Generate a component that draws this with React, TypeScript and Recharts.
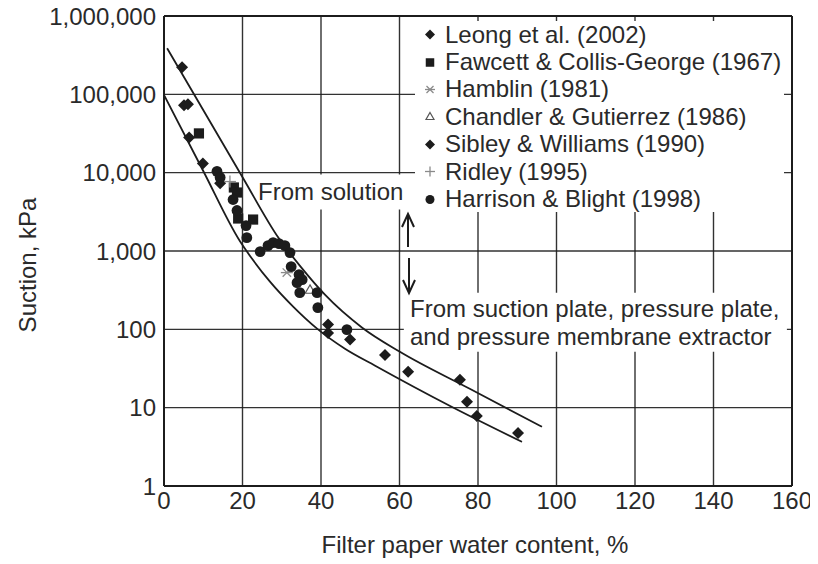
import React from "react";
import {
  CartesianGrid,
  ComposedChart,
  Legend,
  Line,
  ReferenceArea,
  Scatter,
  XAxis,
  YAxis,
} from "recharts";

const X_TICKS = [0, 20, 40, 60, 80, 100, 120, 140, 160];
const Y_TICKS = [1, 10, 100, 1000, 10000, 100000, 1000000];

// calibration band: upper and lower bounding curves
const UPPER_X = [0.8, 19.9, 29.3, 34.8, 41.0, 50.5, 60.1, 77.9, 96.3];
const UPPER_Y = [387000, 8940, 1440, 632, 277, 105, 51.7, 17.4, 5.7];
const LOWER_X = [0, 10, 19.4, 22.4, 27.0, 32.9, 39.0, 46.1, 53.8, 72.9, 91.2];
const LOWER_Y = [98000, 10500, 1320, 800, 406, 195, 102, 56.5, 34.3, 10.5, 3.66];

// measured points, water content (%) vs suction (kPa)
const LEONG_X = [4.6, 5.1, 6.1, 6.4, 9.9, 56.3, 62.2, 75.4, 77.2, 79.7, 90.2];
const LEONG_Y = [221000, 72300, 74500, 28200, 13100, 47, 28.7, 22.7, 11.9, 7.85, 4.76];
const FAWCETT_X = [8.9, 17.8, 18.6, 18.9, 22.7];
const FAWCETT_Y = [31700, 6470, 5580, 2600, 2520];
const HAMBLIN_X = [31.3];
const HAMBLIN_Y = [530];
const CHANDLER_X = [37.2];
const CHANDLER_Y = [321];
const SIBLEY_X = [14.3, 41.8, 41.8, 47.4];
const SIBLEY_Y = [7300, 115, 90, 74];
const RIDLEY_X = [16.8];
const RIDLEY_Y = [7700];
const HARRISON_X = [
  13.5, 14.3, 17.6, 18.6, 20.9, 21.1, 24.5, 26.5, 27.8, 29.3, 30.8, 32.1, 32.4,
  34.4, 35.2, 33.9, 34.6, 39.0, 39.2, 46.6,
];
const HARRISON_Y = [
  10400, 8700, 4540, 3290, 2110, 1480, 983, 1170, 1280, 1240, 1170, 955, 631,
  499, 431, 394, 294, 294, 189, 99,
];

const INK = "#1c1c1c";
const TEXT = "#2a2a2a";
const FONT = "'Liberation Sans', Arial, Helvetica, sans-serif";

const zip = (xs: number[], ys: number[]) => xs.map((x, i) => ({ x, y: ys[i] }));

type Marker = (cx: number, cy: number, s: number) => React.ReactElement;

const diamond: Marker = (cx, cy, s) => (
  <polygon
    points={`${cx},${cy - s} ${cx + s},${cy} ${cx},${cy + s} ${cx - s},${cy}`}
    fill={INK}
  />
);
const square: Marker = (cx, cy, s) => (
  <rect x={cx - s * 0.85} y={cy - s * 0.85} width={s * 1.7} height={s * 1.7} fill={INK} />
);
const circle: Marker = (cx, cy, s) => <circle cx={cx} cy={cy} r={s * 0.9} fill={INK} />;
const asterisk: Marker = (cx, cy, s) => (
  <g stroke="#8a8a8a" strokeWidth={1.3}>
    <line x1={cx - s} y1={cy} x2={cx + s} y2={cy} />
    <line x1={cx - s * 0.7} y1={cy - s * 0.7} x2={cx + s * 0.7} y2={cy + s * 0.7} />
    <line x1={cx - s * 0.7} y1={cy + s * 0.7} x2={cx + s * 0.7} y2={cy - s * 0.7} />
  </g>
);
const triangle: Marker = (cx, cy, s) => (
  <polygon
    points={`${cx},${cy - s * 0.8} ${cx + s * 0.8},${cy + s * 0.6} ${cx - s * 0.8},${cy + s * 0.6}`}
    fill="#fff"
    stroke="#555"
    strokeWidth={1.2}
  />
);
const plus: Marker = (cx, cy, s) => (
  <g stroke="#8a8a8a" strokeWidth={1.3}>
    <line x1={cx - s} y1={cy} x2={cx + s} y2={cy} />
    <line x1={cx} y1={cy - s} x2={cx} y2={cy + s} />
  </g>
);

const SERIES = [
  { name: "Leong et al. (2002)", data: zip(LEONG_X, LEONG_Y), marker: diamond },
  { name: "Fawcett & Collis-George (1967)", data: zip(FAWCETT_X, FAWCETT_Y), marker: square },
  { name: "Hamblin (1981)", data: zip(HAMBLIN_X, HAMBLIN_Y), marker: asterisk },
  { name: "Chandler & Gutierrez (1986)", data: zip(CHANDLER_X, CHANDLER_Y), marker: triangle },
  { name: "Sibley & Williams (1990)", data: zip(SIBLEY_X, SIBLEY_Y), marker: diamond },
  { name: "Ridley (1995)", data: zip(RIDLEY_X, RIDLEY_Y), marker: plus },
  { name: "Harrison & Blight (1998)", data: zip(HARRISON_X, HARRISON_Y), marker: circle },
];

const UPPER = zip(UPPER_X, UPPER_Y);
const LOWER = zip(LOWER_X, LOWER_Y);

const LegendBox = () => (
  <div style={{ background: "#fff", width: 369, height: 191, fontFamily: FONT }}>
    {SERIES.map((s) => (
      <div
        key={s.name}
        style={{ display: "flex", alignItems: "center", height: 27.4, fontSize: 24, color: TEXT }}
      >
        <svg width={30} height={27} style={{ flex: "none" }}>
          {s.marker(15, 13.5, 5)}
        </svg>
        <span style={{ whiteSpace: "nowrap" }}>{s.name}</span>
      </div>
    ))}
  </div>
);

const yTitle = (props: any) => {
  const { x, y, height } = props.viewBox;
  const cx = x + 19;
  const cy = y + height / 2 + 14;
  return (
    <text
      x={cx}
      y={cy}
      transform={`rotate(-90 ${cx} ${cy})`}
      textAnchor="middle"
      dominantBaseline="central"
      fontSize={24}
      fill={TEXT}
    >
      Suction, kPa
    </text>
  );
};

const xTitle = (props: any) => {
  const { x, y, width } = props.viewBox;
  return (
    <text x={x + width / 2 - 3} y={y + 67} textAnchor="middle" fontSize={24} fill={TEXT}>
      Filter paper water content, %
    </text>
  );
};

const tickStyle = { fontSize: 24, fill: TEXT };

export default function App() {
  return (
    <div style={{ position: "relative", width: 810, height: 556, fontFamily: FONT }}>
      {/* the top tick label sits right at the svg edge */}
      <style>{`.recharts-surface { overflow: visible; }`}</style>
      <ComposedChart width={810} height={556} margin={{ top: 8, right: 26, bottom: 0, left: 0 }}>
        <CartesianGrid stroke={INK} strokeWidth={1.4} strokeOpacity={0.9} />

        {/* white backing behind the two method notes */}
        <ReferenceArea x1={23.7} x2={61.4} y1={3380} y2={9480} fill="#fff" fillOpacity={1} stroke="none" ifOverflow="visible" />
        <ReferenceArea x1={61.1} x2={158.7} y1={51.7} y2={294} fill="#fff" fillOpacity={1} stroke="none" ifOverflow="visible" />

        <XAxis
          dataKey="x"
          type="number"
          domain={[0, 160]}
          ticks={X_TICKS}
          interval={0}
          height={78}
          tickLine={false}
          tickMargin={0}
          axisLine={{ stroke: INK, strokeWidth: 2 }}
          tick={tickStyle}
          label={xTitle}
        />
        <XAxis
          xAxisId="top"
          orientation="top"
          type="number"
          domain={[0, 160]}
          ticks={X_TICKS}
          interval={0}
          mirror
          tick={false}
          tickSize={4}
          tickLine={{ stroke: INK, strokeWidth: 1.5 }}
          axisLine={{ stroke: INK, strokeWidth: 2 }}
        />
        <YAxis
          dataKey="y"
          scale="log"
          domain={[1, 1000000]}
          allowDataOverflow
          ticks={Y_TICKS}
          interval={0}
          width={156}
          tickLine={false}
          axisLine={{ stroke: INK, strokeWidth: 2 }}
          tick={tickStyle}
          tickFormatter={(v: number) => v.toLocaleString("en-US")}
          label={yTitle}
        />
        <YAxis
          yAxisId="right"
          orientation="right"
          scale="log"
          domain={[1, 1000000]}
          allowDataOverflow
          ticks={Y_TICKS}
          interval={0}
          mirror
          tick={false}
          tickSize={8}
          tickLine={{ stroke: INK, strokeWidth: 1.5 }}
          axisLine={{ stroke: INK, strokeWidth: 2 }}
        />

        <Line data={UPPER} dataKey="y" type="monotone" stroke={INK} strokeWidth={1.8} dot={false} legendType="none" isAnimationActive={false} />
        <Line data={LOWER} dataKey="y" type="monotone" stroke={INK} strokeWidth={1.8} dot={false} legendType="none" isAnimationActive={false} />

        {SERIES.map((s) => (
          <Scatter
            key={s.name}
            name={s.name}
            data={s.data}
            isAnimationActive={false}
            shape={(p: any) => s.marker(p.cx, p.cy, 6)}
          />
        ))}

        <Legend
          layout="horizontal"
          verticalAlign="middle"
          align="center"
          width={369}
          height={191}
          wrapperStyle={{ left: 407, top: 13 }}
          content={() => <LegendBox />}
        />
      </ComposedChart>

      <div
        style={{
          position: "absolute",
          left: 250,
          top: 170,
          fontSize: 24,
          lineHeight: "28px",
          color: TEXT,
          whiteSpace: "nowrap",
        }}
      >
        From solution
      </div>
      <div
        style={{
          position: "absolute",
          left: 402,
          top: 287,
          fontSize: 24,
          lineHeight: "28px",
          color: TEXT,
          whiteSpace: "nowrap",
        }}
      >
        From suction plate, pressure plate,
        <br />
        and pressure membrane extractor
      </div>
      <svg
        width={810}
        height={556}
        style={{ position: "absolute", left: 0, top: 0, pointerEvents: "none" }}
      >
        <g stroke={INK} strokeWidth={2} fill="none">
          <line x1={400} y1={239} x2={400} y2={207} />
          <polyline points="394,219 400,206 406,219" />
          <line x1={401} y1={250} x2={401} y2={284} />
          <polyline points="395,272 401,285 407,272" />
        </g>
      </svg>
    </div>
  );
}
